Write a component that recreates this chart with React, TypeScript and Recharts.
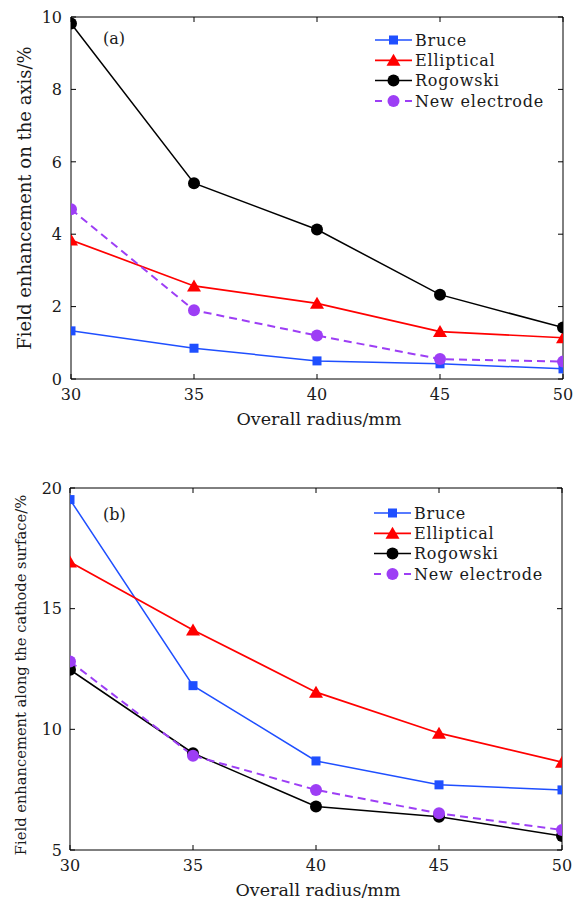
import React from 'react';
import { LineChart, Line, XAxis, YAxis, Legend } from 'recharts';

// ---------- data ----------
const radius = [30, 35, 40, 45, 50];
const xTicks = [30, 35, 40, 45, 50];

const axisBruce = [1.33, 0.85, 0.5, 0.42, 0.28];
const axisElliptical = [3.84, 2.57, 2.09, 1.31, 1.14];
const axisRogowski = [9.82, 5.41, 4.13, 2.33, 1.42];
const axisNew = [4.69, 1.9, 1.2, 0.55, 0.48];
const axisYTicks = [0, 2, 4, 6, 8, 10];

const surfBruce = [19.52, 11.81, 8.69, 7.7, 7.49];
const surfElliptical = [16.93, 14.12, 11.54, 9.84, 8.64];
const surfRogowski = [12.47, 9.01, 6.8, 6.38, 5.58];
const surfNew = [12.81, 8.91, 7.49, 6.52, 5.83];
const surfYTicks = [5, 10, 15, 20];

const seriesNames = ['Bruce', 'Elliptical', 'Rogowski', 'New electrode'];
const xLabel = 'Overall radius/mm';
const yLabelA = 'Field enhancement on the axis/%';
const yLabelB = 'Field enhancement along the cathode surface/%';

// ---------- styles ----------
const FONT = 'DejaVu Serif';
const TEXT = '#1a1a1a';

const series = [
  { key: 'bruce', name: seriesNames[0], color: '#1f4fff', shape: 'square', width: 1.5, dash: undefined as string | undefined },
  { key: 'elliptical', name: seriesNames[1], color: '#ff0000', shape: 'triangle', width: 1.7, dash: undefined as string | undefined },
  { key: 'rogowski', name: seriesNames[2], color: '#000000', shape: 'circle', width: 1.5, dash: undefined as string | undefined },
  { key: 'newE', name: seriesNames[3], color: '#9d3ef5', shape: 'circle', width: 2, dash: '8 5' as string | undefined },
];

const dataA = radius.map((r, i) => ({
  r,
  bruce: axisBruce[i],
  elliptical: axisElliptical[i],
  rogowski: axisRogowski[i],
  newE: axisNew[i],
}));
const dataB = radius.map((r, i) => ({
  r,
  bruce: surfBruce[i],
  elliptical: surfElliptical[i],
  rogowski: surfRogowski[i],
  newE: surfNew[i],
}));

function Marker({ shape, cx, cy, color }: any) {
  if (cx == null || cy == null) return null;
  if (shape === 'square') {
    return <rect x={cx - 4.5} y={cy - 4.5} width={9} height={9} fill={color} />;
  }
  if (shape === 'triangle') {
    return (
      <polygon
        points={`${cx},${cy - 6.5} ${cx - 7},${cy + 5.5} ${cx + 7},${cy + 5.5}`}
        fill={color}
      />
    );
  }
  return <circle cx={cx} cy={cy} r={6} fill={color} />;
}

const makeDot = (s: any) => (p: any) => (
  <Marker key={`${s.key}-${p.index}`} shape={s.shape} cx={p.cx} cy={p.cy} color={s.color} />
);

// ---------- ticks ----------
const bottomTick = (m: number) => (props: any) => {
  const { x, y, payload } = props;
  const y0 = y - m;
  return (
    <g>
      <line x1={x} x2={x} y1={y0} y2={y0 - 5} stroke="#000" strokeWidth={1} />
      <text x={x} y={y} dy="0.73em" textAnchor="middle" fontFamily={FONT} fontSize={16} fill={TEXT}>
        {payload.value}
      </text>
    </g>
  );
};
const leftTick = (m: number) => (props: any) => {
  const { x, y, payload } = props;
  const x0 = x + m;
  return (
    <g>
      <line x1={x0} x2={x0 + 5} y1={y} y2={y} stroke="#000" strokeWidth={1} />
      <text x={x} y={y} dy="0.36em" textAnchor="end" fontFamily={FONT} fontSize={16} fill={TEXT}>
        {payload.value}
      </text>
    </g>
  );
};
const topTick = (props: any) => {
  const { x, y } = props;
  return <line x1={x} x2={x} y1={y} y2={y + 5} stroke="#000" strokeWidth={1} />;
};
const rightTick = (props: any) => {
  const { x, y } = props;
  return <line x1={x} x2={x - 5} y1={y} y2={y} stroke="#000" strokeWidth={1} />;
};

// ---------- legend ----------
const LegendBox = () => (
  <svg width={190} height={90} style={{ display: 'block' }}>
    {series.map((s, i) => {
      const cy = 12 + i * 20.3;
      return (
        <g key={s.key}>
          <line
            x1={5}
            x2={42}
            y1={cy}
            y2={cy}
            stroke={s.color}
            strokeWidth={s.width}
            strokeDasharray={s.dash ? '7 23 7' : undefined}
          />
          <Marker shape={s.shape} cx={23.5} cy={cy} color={s.color} />
          <text
            x={45}
            y={cy}
            dy="0.36em"
            fontFamily={FONT}
            fontSize={16}
            letterSpacing={0.8}
            fill={TEXT}
          >
            {s.name}
          </text>
        </g>
      );
    })}
  </svg>
);

type PanelProps = {
  data: any[];
  height: number;
  margin: any;
  yWidth: number;
  xHeight: number;
  yDomain: number[];
  yTicks: number[];
  xTickM: number;
  yTickM: number;
  yLabel: string;
  yLabelSize: number;
  yLabelDx: number;
  yLabelDy: number;
  xLabelDy: number;
  legendTop: number;
  legendLeft: number;
};

function Panel(p: PanelProps) {
  return (
    <LineChart width={573} height={p.height} data={p.data} margin={p.margin}>
      <XAxis
        dataKey="r"
        type="number"
        domain={[30, 50]}
        ticks={xTicks}
        allowDataOverflow
        height={p.xHeight}
        stroke="#000"
        tickLine={false}
        tickSize={0}
        tickMargin={p.xTickM}
        tick={bottomTick(p.xTickM)}
        label={{
          value: xLabel,
          position: 'center',
          dx: 2,
          dy: p.xLabelDy,
          fontFamily: FONT,
          fontSize: 17.5,
          fill: TEXT,
        }}
      />
      <XAxis
        xAxisId="top"
        orientation="top"
        dataKey="r"
        type="number"
        domain={[30, 50]}
        ticks={xTicks}
        allowDataOverflow
        height={1}
        stroke="#000"
        tickLine={false}
        tickSize={0}
        tickMargin={0}
        tick={topTick}
      />
      <YAxis
        type="number"
        domain={p.yDomain}
        ticks={p.yTicks}
        allowDataOverflow
        width={p.yWidth}
        stroke="#000"
        tickLine={false}
        tickSize={0}
        tickMargin={p.yTickM}
        tick={leftTick(p.yTickM)}
        label={{
          value: p.yLabel,
          angle: -90,
          position: 'center',
          dx: p.yLabelDx,
          dy: p.yLabelDy,
          fontFamily: FONT,
          fontSize: p.yLabelSize,
          fill: TEXT,
        }}
      />
      <YAxis
        yAxisId="right"
        orientation="right"
        type="number"
        domain={p.yDomain}
        ticks={p.yTicks}
        allowDataOverflow
        width={1}
        stroke="#000"
        tickLine={false}
        tickSize={0}
        tickMargin={0}
        tick={rightTick}
      />
      <Legend
        layout="horizontal"
        verticalAlign="middle"
        align="center"
        content={() => <LegendBox />}
        wrapperStyle={{ position: 'absolute', left: p.legendLeft, top: p.legendTop, width: 190, height: 90 }}
      />
      {series.map((s) => (
        <Line
          key={s.key}
          type="linear"
          dataKey={s.key}
          name={s.name}
          stroke={s.color}
          strokeWidth={s.width}
          strokeDasharray={s.dash}
          dot={makeDot(s)}
          activeDot={false}
          isAnimationActive={false}
        />
      ))}
    </LineChart>
  );
}

export default function App() {
  return (
    <div style={{ position: 'absolute', left: 0, top: 0, width: 573, height: 899, background: '#fff' }}>
      <div style={{ position: 'absolute', left: 0, top: 0 }}>
        <Panel
          data={dataA}
          height={440}
          margin={{ top: 16, right: 9, bottom: 0, left: 0 }}
          yWidth={71}
          xHeight={61}
          yDomain={[0, 10]}
          yTicks={axisYTicks}
          xTickM={9}
          yTickM={9}
          yLabel={yLabelA}
          yLabelSize={18}
          yLabelDx={-10.5}
          yLabelDy={0}
          xLabelDy={9}
          legendTop={28}
          legendLeft={370}
        />
        <div
          style={{
            position: 'absolute',
            left: 103,
            top: 30,
            fontFamily: FONT,
            fontSize: 16,
            lineHeight: '18px',
            color: TEXT,
          }}
        >
          (a)
        </div>
      </div>
      <div style={{ position: 'absolute', left: 0, top: 440 }}>
        <Panel
          data={dataB}
          height={459}
          margin={{ top: 47, right: 10, bottom: 0, left: 0 }}
          yWidth={70}
          xHeight={49}
          yDomain={[5, 20]}
          yTicks={surfYTicks}
          xTickM={9}
          yTickM={8}
          yLabel={yLabelB}
          yLabelSize={14.7}
          yLabelDx={-14}
          yLabelDy={6}
          xLabelDy={15}
          legendTop={61}
          legendLeft={369}
        />
        <div
          style={{
            position: 'absolute',
            left: 103,
            top: 66,
            fontFamily: FONT,
            fontSize: 16,
            lineHeight: '18px',
            color: TEXT,
          }}
        >
          (b)
        </div>
      </div>
    </div>
  );
}
